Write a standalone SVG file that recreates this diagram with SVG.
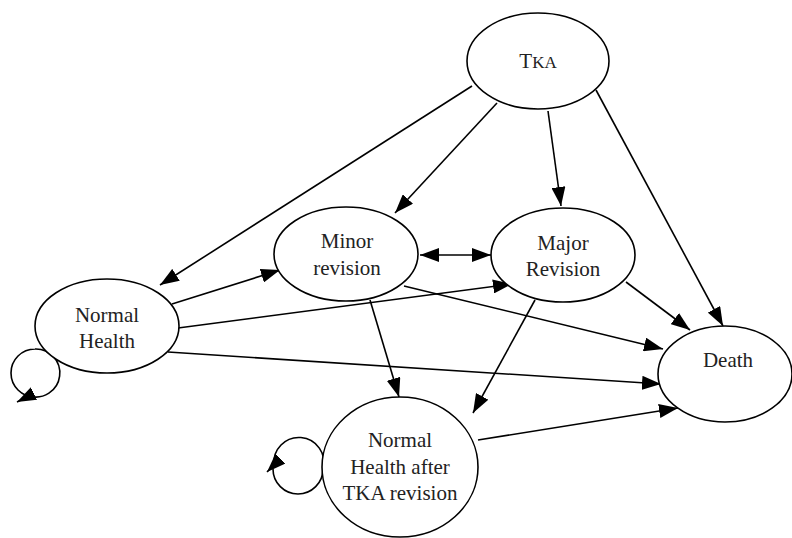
<svg xmlns="http://www.w3.org/2000/svg" width="792" height="538" viewBox="0 0 792 538">
<style>
.n{fill:#fff;stroke:#000;stroke-width:1.6}
.t{font-family:"Liberation Serif","Times New Roman","DejaVu Serif",serif;font-size:21px;fill:#222;text-anchor:middle}
.e{fill:none;stroke:#000;stroke-width:1.6}
</style>
<defs>
<marker id="a" viewBox="0 0 19 14" refX="19" refY="7" markerWidth="19" markerHeight="14" markerUnits="userSpaceOnUse" orient="auto-start-reverse">
<path d="M0,0 L19,7 L0,14 Z" fill="#000"/>
</marker>
</defs>
<rect width="792" height="538" fill="#fff"/>
<g id="connectors">
<line class="e" x1="472" y1="86" x2="160" y2="285" marker-end="url(#a)"/>
<line class="e" x1="497" y1="103" x2="395" y2="213" marker-end="url(#a)"/>
<line class="e" x1="548" y1="111" x2="561" y2="206" marker-end="url(#a)"/>
<line class="e" x1="596" y1="90" x2="723" y2="326" marker-end="url(#a)"/>
<line class="e" x1="420" y1="255" x2="491" y2="255" marker-start="url(#a)" marker-end="url(#a)"/>
<line class="e" x1="172" y1="304" x2="280" y2="270" marker-end="url(#a)"/>
<line class="e" x1="178" y1="328" x2="512" y2="284" marker-end="url(#a)"/>
<line class="e" x1="168" y1="352" x2="661" y2="384" marker-end="url(#a)"/>
<line class="e" x1="404" y1="286" x2="663" y2="349" marker-end="url(#a)"/>
<line class="e" x1="626" y1="282" x2="690" y2="330" marker-end="url(#a)"/>
<line class="e" x1="370" y1="300" x2="399" y2="397" marker-end="url(#a)"/>
<line class="e" x1="535" y1="300" x2="473" y2="413" marker-end="url(#a)"/>
<line class="e" x1="478" y1="440" x2="678" y2="408" marker-end="url(#a)"/>
<path class="e" d="M35,397 A24,24 0 1 1 35,349 A24,24 0 1 1 29,396 L17,402" marker-end="url(#a)"/>
<path class="e" d="M273,469 A25,25 0 1 0 323,469 A25,25 0 1 0 274,465 L267,472" marker-end="url(#a)"/>
</g>
<g id="tka"><ellipse class="n" cx="538" cy="61" rx="71" ry="48"/><text class="t" x="538" y="68">T<tspan font-size="17">KA</tspan></text></g>
<g id="minor"><ellipse class="n" cx="346" cy="254" rx="72" ry="47"/><text class="t" x="347" y="248">Minor</text><text class="t" x="347" y="275">revision</text></g>
<g id="major"><ellipse class="n" cx="563" cy="255" rx="72" ry="47"/><text class="t" x="563" y="250">Major</text><text class="t" x="563" y="276">Revision</text></g>
<g id="normal"><ellipse class="n" cx="107" cy="326" rx="72" ry="47"/><text class="t" x="107" y="322">Normal</text><text class="t" x="107" y="348">Health</text></g>
<g id="death"><ellipse class="n" cx="725" cy="374" rx="67" ry="48"/><text class="t" x="728" y="367">Death</text></g>
<g id="nhafter"><ellipse class="n" cx="400" cy="467" rx="78" ry="70"/><text class="t" x="400" y="447">Normal</text><text class="t" x="400" y="474">Health after</text><text class="t" x="400" y="500">TKA revision</text></g>
</svg>
